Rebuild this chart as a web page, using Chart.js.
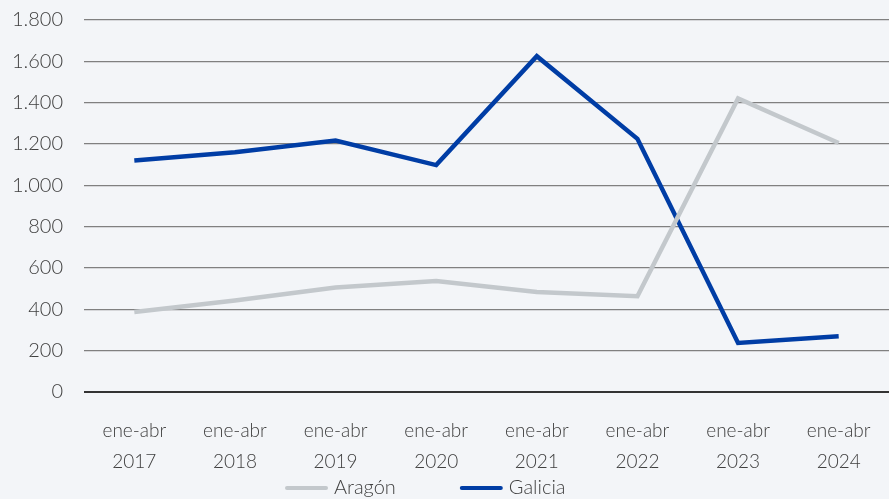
<!DOCTYPE html>
<html><head><meta charset="utf-8">
<script src="https://cdn.jsdelivr.net/npm/chart.js@4/dist/chart.umd.min.js"></script>
<style>
html,body{margin:0;padding:0;background:#f3f5f8;}
#wrap{width:889px;height:499px;position:relative;}
</style></head>
<body><div id="wrap"><canvas id="c" width="889" height="499"></canvas></div>
<script>
const periods = ["ene-abr", "ene-abr", "ene-abr", "ene-abr", "ene-abr", "ene-abr", "ene-abr", "ene-abr"];
const years = ["2017", "2018", "2019", "2020", "2021", "2022", "2023", "2024"];
const aragon = [387, 443, 506, 537, 484, 463, 1420, 1205];
const galicia = [1120, 1160, 1217, 1098, 1625, 1225, 237, 270];
const seriesNames = ["Aragón", "Galicia"];

const FONT = "Lato, 'Open Sans', sans-serif";
function fmt(v){ return String(v).replace(/\B(?=(\d{3})+(?!\d))/g, "."); }

const bgPlugin = {
  id: 'bg',
  beforeDraw(chart){ const c=chart.ctx; c.save(); c.fillStyle='#f3f5f8'; c.fillRect(0,0,chart.width,chart.height); c.restore(); }
};
const legendPlugin = {
  id: 'customLegend',
  afterDraw(chart){
    const c = chart.ctx;
    c.save();
    c.font = "300 20px " + FONT;
    c.textBaseline = 'middle';
    const lineW = 43, gapText = 6, gapItems = 64, y = 488;
    const items = chart.data.datasets.map(d => ({text: d.label, color: d.borderColor, w: lineW + gapText + c.measureText(d.label).width}));
    let x = 285;
    items.forEach(it => {
      c.strokeStyle = it.color; c.lineWidth = 4; c.lineCap = 'round';
      c.beginPath(); c.moveTo(x+2, y); c.lineTo(x+lineW-2, y); c.stroke();
      c.fillStyle = '#404040';
      c.fillText(it.text, x + lineW + gapText, y);
      x += it.w + gapItems;
    });
    c.restore();
  }
};

new Chart(document.getElementById('c'), {
  type: 'line',
  data: {
    labels: periods.map((p,i)=>[p, years[i]]),
    datasets: [
      {label: seriesNames[0], data: aragon, borderColor: '#c3c8cc', backgroundColor: '#c3c8cc', borderWidth: 4.5, pointRadius: 0, tension: 0},
      {label: seriesNames[1], data: galicia, borderColor: '#003da5', backgroundColor: '#003da5', borderWidth: 4.5, pointRadius: 0, tension: 0}
    ]
  },
  options: {
    responsive: false,
    animation: false,
    devicePixelRatio: 1,
    layout: {padding: {top: 20, right: 0, left: 0, bottom: 27}},
    plugins: {legend: {display: false}, tooltip: {enabled: false}},
    scales: {
      x: {
        offset: true,
        grid: {display: false, drawTicks: false},
        border: {display: false},
        ticks: {color: '#404040', font: {family: FONT, size: 19, weight: '300', lineHeight: 1.6}, padding: 24, maxRotation: 0, autoSkip: false},
        afterFit(s){ s.height = 80; s.paddingLeft = 0; s.paddingRight = 0; }
      },
      y: {
        min: 0, max: 1800,
        ticks: {stepSize: 200, color: '#404040', font: {family: FONT, size: 20, weight: '300'}, padding: 21, callback: v => fmt(v)},
        grid: {drawTicks: false, color: ctx => ctx.tick && ctx.tick.value === 0 ? '#333333' : '#808080', lineWidth: ctx => ctx.tick && ctx.tick.value === 0 ? 2 : 1.2},
        border: {display: false},
        afterFit(s){ s.width = 84; s.paddingTop = 0; s.paddingBottom = 0; }
      }
    }
  },
  plugins: [bgPlugin, legendPlugin]
});
</script></body></html>
